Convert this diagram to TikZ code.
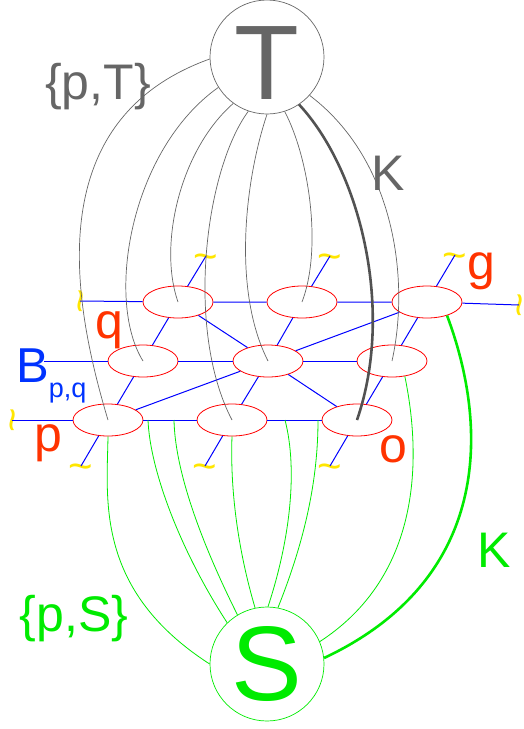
\documentclass[tikz,border=0pt]{standalone}
\usepackage{fontspec}
\setmainfont{Liberation Sans}
\usetikzlibrary{shapes.geometric}
\definecolor{tgrey}{RGB}{102,102,102}
\definecolor{lred}{RGB}{255,51,0}
\definecolor{sgreen}{RGB}{0,235,0}
\definecolor{wyel}{RGB}{255,230,0}
\definecolor{bblue}{RGB}{0,0,255}
\definecolor{btext}{RGB}{0,51,255}
\newcommand{\fs}[1]{\fontsize{#1}{#1}\selectfont}
\newcommand{\wv}{\raisebox{-0.345em}[0.1em][0.1em]{\symbol{"7E}}}
\begin{document}
\begin{tikzpicture}[x=1pt,y=-1pt,
    cell/.style={ellipse,draw=red,line width=0.8pt,minimum width=70pt,minimum height=32pt,inner sep=0pt},
    wig/.style={text=wyel,font=\fs{42},inner sep=0pt},
    lab/.style={anchor=base,inner sep=0pt,font=\fs{50}},
    bl/.style={draw=bblue,line width=1pt},
    gl/.style={draw=tgrey,line width=0.7pt},
    sl/.style={draw=sgreen,line width=0.8pt}]
    \useasboundingbox (0,0) rectangle (523,729);
    % terminals
    \node[circle,draw=tgrey,line width=0.7pt,minimum size=114pt,inner sep=0pt,text=tgrey,font=\fs{106},text height=84pt,text depth=0pt] (T) at (267,57) {T};
    \node[circle,draw=sgreen,line width=0.7pt,minimum size=114pt,inner sep=0pt,text=sgreen,font=\fs{106}] (S) at (267,664) {S};
    % grid cells
    \node[cell] (p) at (108,420) {};
    \node[cell] (m1) at (232,420) {};
    \node[cell] (o) at (357,420) {};
    \node[cell] (q) at (143,361) {};
    \node[cell] (m2) at (268,361) {};
    \node[cell] (r2) at (392,361) {};
    \node[cell] (t1) at (178,302) {};
    \node[cell] (t2) at (302,302) {};
    \node[cell] (g) at (427,302) {};
    % loose ends
    \node[wig,rotate=90] (w1) at (12,420) {\wv};
    \node[wig,rotate=90] (w2) at (80,301) {\wv};
    \node[wig,rotate=90] (w3) at (519,305) {\wv};
    \node[wig] (w4) at (206,256) {\wv};
    \node[wig] (w5) at (330,256) {\wv};
    \node[wig] (w6) at (455,255) {\wv};
    \node[wig] (w7) at (81,466) {\wv};
    \node[wig] (w8) at (205,466) {\wv};
    \node[wig] (w9) at (330,466) {\wv};
    \coordinate (b) at (44,361);
    % rows
    \draw[bl] (w1.center) -- (p) (p) -- (m1) (m1) -- (o);
    \draw[bl] (b) -- (q) (q) -- (m2) (m2) -- (r2);
    \draw[bl] (w2.center) -- (t1) (t1) -- (t2) (t2) -- (g) (g) -- (w3.center);
    % columns
    \draw[bl] (w7.center) -- (p) (p) -- (q) (q) -- (t1) (t1) -- (w4.center);
    \draw[bl] (w8.center) -- (m1) (m1) -- (m2) (m2) -- (t2) (t2) -- (w5.center);
    \draw[bl] (w9.center) -- (o) (o) -- (r2) (r2) -- (g) (g) -- (w6.center);
    % diagonals
    \draw[bl] (p) -- (m2) (m2) -- (g) (t1) -- (m2) (m2) -- (o);
    % source side
    \coordinate (e1) at (148,420);
    \coordinate (e2) at (174,420);
    \coordinate (e3) at (285,420);
    \coordinate (e4) at (318,420);
    \draw[sl] (S.180) .. controls (95,590) and (107,500) .. (p.south);
    \draw[sl] (S.134) .. controls (180,550) and (150,470) .. (e1);
    \draw[sl] (S.121) .. controls (200,540) and (175,470) .. (e2);
    \draw[sl] (S.102) .. controls (238,550) and (230,490) .. (m1.south);
    \draw[sl] (S.89) .. controls (290,540) and (298,470) .. (e3);
    \draw[sl] (S.79) .. controls (305,540) and (318,480) .. (e4);
    \draw[sl] (S.23) .. controls (430,570) and (418,440) .. (r2.-50);
    \draw[sl,line width=2.6pt] (S.6) .. controls (490,580) and (490,430) .. (g.-34);
    % sink side
    \draw[gl] (T.182) .. controls (40,120) and (72,300) .. (p.center);
    \draw[gl] (T.212) .. controls (130,150) and (105,300) .. (q.center);
    \draw[gl] (T.234) .. controls (180,150) and (158,245) .. (t1.center);
    \draw[gl] (T.251) .. controls (205,170) and (185,330) .. (m1.center);
    \draw[gl] (T.270) .. controls (245,180) and (232,290) .. (m2.center);
    \draw[gl] (T.288) .. controls (310,160) and (322,250) .. (t2.center);
    \draw[gl,draw=tgrey!80!black,line width=2.6pt] (T.304) .. controls (360,170) and (395,310) .. (o.center);
    \draw[gl] (T.318) .. controls (395,160) and (410,280) .. (r2.center);
    % labels
    \node[lab,text=tgrey] (lpt) at (98,99) {\{p,T\}};
    \node[lab,text=tgrey] (lk1) at (388,190) {K};
    \node[lab,text=lred] (lq) at (109,338) {q};
    \node[lab,text=lred] (lp) at (48,451) {p};
    \node[lab,text=lred] (lg) at (481,279) {g};
    \node[lab,text=lred] (lo) at (393,462) {o};
    \node[lab,text=sgreen] (lk2) at (494,567) {K};
    \node[lab,text=sgreen] (lps) at (74,631) {\{p,S\}};
    \node[anchor=base west,inner sep=0pt,text=btext,font=\fs{49}] (lb) at (16,382) {B\raisebox{-15pt}{\fs{27}p,q}};
\end{tikzpicture}
\end{document}
